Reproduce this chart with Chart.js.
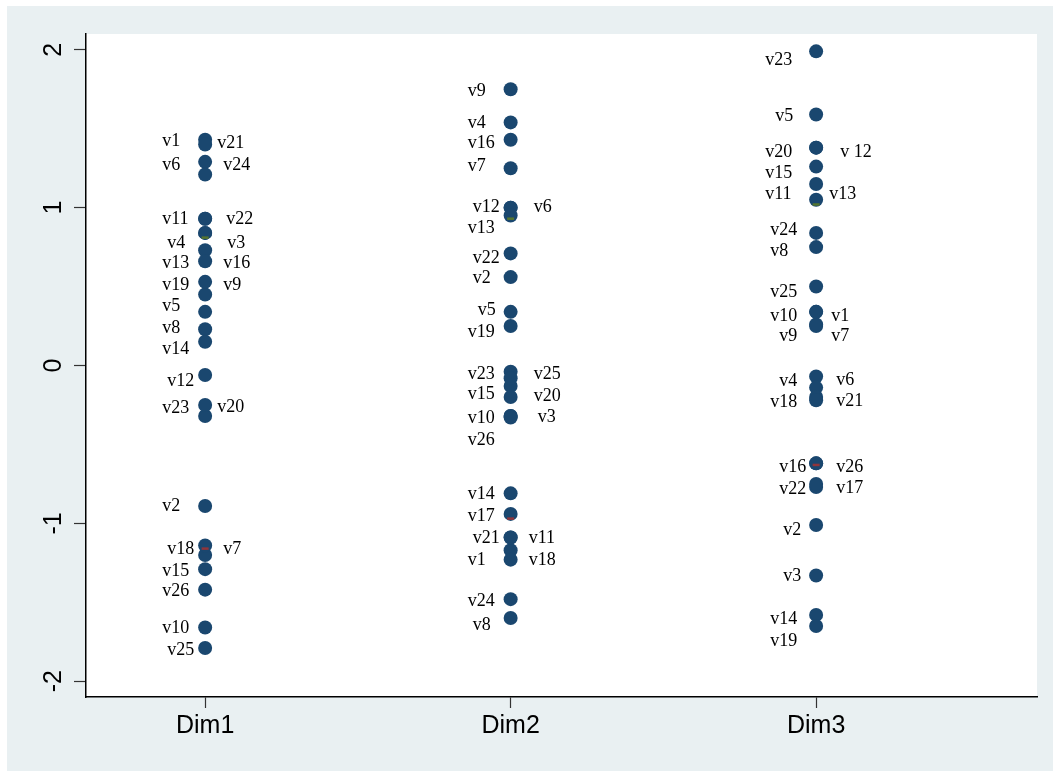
<!DOCTYPE html>
<html lang="en">
<head>
<meta charset="UTF-8">
<title>Dim plot</title>
<script src="https://cdn.jsdelivr.net/npm/chart.js"></script>
<style>
    body { margin: 0; background: #ffffff; }
    #box { width: 1053px; height: 771px; }
</style>
</head>
<body>
<div id="box"><canvas id="grafico"></canvas></div>
<script>
    // categorias e valores
    const dims = ['Dim1', 'Dim2', 'Dim3'];
    const names = ['v1','v2','v3','v4','v5','v6','v7','v8','v9','v10','v11','v12','v13',
                   'v14','v15','v16','v17','v18','v19','v20','v21','v22','v23','v24','v25','v26'];
    const dim1 = [1.43, -0.89, 0.84, 0.84, 0.34, 1.29, -1.20, 0.23, 0.45, -1.66, 0.93, -0.06, 0.73,
                  0.15, -1.29, 0.66, null, -1.14, 0.53, -0.32, 1.40, 0.93, -0.25, 1.21, -1.79, -1.42];
    const dim2 = [-1.17, 0.56, -0.32, 1.54, 0.34, 1.00, 1.25, -1.60, 1.75, -0.32, -1.09, 1.00, 0.95,
                  -0.81, -0.13, 1.43, -0.94, -1.23, 0.25, -0.20, -1.09, 0.71, -0.04, -1.48, -0.08, -0.33];
    const dim3 = [0.34, -1.01, -1.33, -0.07, 1.59, -0.14, 0.25, 0.75, 0.26, 0.34, 1.15, 1.38, 1.05,
                  -1.58, 1.26, -0.62, -0.77, -0.20, -1.65, 1.38, -0.22, -0.75, 1.99, 0.84, 0.50, -0.62];
    const redMark = [-1.16, -0.97, -0.63];
    const greenMark = [0.81, 0.93, 1.02];
    const yTicks = [-2, -1, 0, 1, 2];
    const dim3Text = { v12: 'v 12' };

    // onde fica cada rotulo: [dx, dy] em pixels a partir do ponto
    const place1 = {
        v1: [-43, 0], v2: [-43, -2], v3: [22, 8], v4: [-38, 8], v5: [-43, -8], v6: [-43, 1],
        v7: [18, -8], v8: [-43, -3], v9: [18, -11], v10: [-43, -1], v11: [-43, -1], v12: [-38, 4],
        v13: [-43, 11], v14: [-43, 5], v15: [-43, 0], v16: [18, 0], v18: [-38, 2], v19: [-43, 1],
        v20: [12, -11], v21: [12, -3], v22: [21, -1], v23: [-43, 1], v24: [18, -11], v25: [-38, 0],
        v26: [-43, 0]
    };
    const place2 = {
        v1: [-43, 8], v2: [-38, -1], v3: [27, -1], v4: [-43, -1], v5: [-33, -4], v6: [23, -2],
        v7: [-43, -4], v8: [-38, 5], v9: [-43, 0], v10: [-43, 0], v11: [18, -1], v12: [-38, -2],
        v13: [-43, 11], v14: [-43, -1], v15: [-43, 6], v16: [-43, 2], v17: [-43, 0], v18: [18, -1],
        v19: [-43, 4], v20: [23, -3], v21: [-38, -1], v22: [-38, 3], v23: [-43, 0], v24: [-43, 0],
        v25: [23, -6], v26: [-43, 21]
    };
    const place3 = {
        v1: [15, 2], v2: [-33, 3], v3: [-33, -1], v4: [-37, 3], v5: [-41, 0], v6: [20, -9],
        v7: [15, 8], v8: [-46, 2], v9: [-37, 10], v10: [-46, 2], v11: [-51, 8], v12: [24, 3],
        v13: [13, -7], v14: [-46, 2], v15: [-51, 5], v16: [-37, 2], v17: [20, -1], v18: [-46, 3],
        v19: [-46, 13], v20: [-51, 3], v21: [20, -1], v22: [-37, 3], v23: [-51, 7], v24: [-46, -5],
        v25: [-46, 4], v26: [20, 2]
    };

    const series = [dim1, dim2, dim3];
    const places = [place1, place2, place3];

    function pontos(valores, x) {
        let lista = [];
        valores.forEach(function (v, i) {
            if (v !== null) lista.push({ x: x, y: v, nome: names[i] });
        });
        return lista;
    }

    let conjuntos = series.map(function (s, i) {
        return {
            label: dims[i],
            data: pontos(s, i + 1),
            order: 2,
            pointBackgroundColor: '#1a476f',
            pointBorderColor: '#1a476f',
            pointBorderWidth: 0,
            pointRadius: 7
        };
    });
    // marcas pequenas por cima dos pontos (order menor = desenhado depois)
    conjuntos.push({
        label: 'red',
        data: redMark.map(function (v, i) { return { x: i + 1, y: v }; }),
        order: 0,
        pointStyle: 'line',
        pointBorderColor: '#90353b',
        pointBackgroundColor: '#90353b',
        pointBorderWidth: 2.5,
        pointRadius: 3.5
    });
    conjuntos.push({
        label: 'green',
        data: greenMark.map(function (v, i) { return { x: i + 1, y: v }; }),
        order: 0,
        pointStyle: 'line',
        pointBorderColor: '#55752f',
        pointBackgroundColor: '#55752f',
        pointBorderWidth: 2.5,
        pointRadius: 3.5
    });

    // fundo externo e area branca
    const fundo = {
        id: 'fundo',
        beforeDraw(chart) {
            const ctx = chart.ctx;
            const a = chart.chartArea;
            ctx.save();
            ctx.fillStyle = '#e9f0f2';
            ctx.fillRect(7, 6, chart.width - 7, chart.height - 6);
            ctx.fillStyle = '#ffffff';
            ctx.fillRect(a.left, a.top, a.right - a.left, a.bottom - a.top);
            ctx.restore();
        }
    };

    // rotulos dos pontos e numeros do eixo y
    const rotulos = {
        id: 'rotulos',
        afterDatasetsDraw(chart) {
            const ctx = chart.ctx;
            ctx.save();
            ctx.font = '18px "Liberation Serif", "Times New Roman", serif';
            ctx.fillStyle = '#000000';
            ctx.textAlign = 'left';
            ctx.textBaseline = 'middle';
            for (let d = 0; d < 3; d++) {
                const meta = chart.getDatasetMeta(d);
                meta.data.forEach(function (el, i) {
                    const nome = chart.data.datasets[d].data[i].nome;
                    const p = places[d][nome] || [-43, 0];
                    let texto = nome;
                    if (d === 2 && dim3Text[nome]) texto = dim3Text[nome];
                    ctx.fillText(texto, el.x + p[0], el.y + p[1] + 2);
                });
            }
            ctx.font = '25px "Liberation Sans", Arial, sans-serif';
            ctx.textAlign = 'center';
            ctx.textBaseline = 'middle';
            const ys = chart.scales.y;
            yTicks.forEach(function (t) {
                ctx.save();
                ctx.translate(54, ys.getPixelForValue(t));
                ctx.rotate(-Math.PI / 2);
                ctx.fillText(String(t), 0, 0);
                ctx.restore();
            });
            ctx.restore();
        }
    };

    const config = {
        type: 'scatter',
        data: { datasets: conjuntos },
        options: {
            responsive: true,
            maintainAspectRatio: false,
            animation: false,
            layout: { padding: { top: 34, right: 16, left: 0, bottom: 0 } },
            plugins: { legend: { display: false }, tooltip: { enabled: false } },
            scales: {
                x: {
                    type: 'linear',
                    min: 0.61,
                    max: 3.723,
                    afterBuildTicks: function (s) { s.ticks = dims.map(function (d, i) { return { value: i + 1 }; }); },
                    afterFit: function (s) { s.height = 74; },
                    ticks: {
                        color: '#000000',
                        padding: 3,
                        font: { family: '"Liberation Sans", Arial, sans-serif', size: 25 },
                        callback: function (v) { return dims[v - 1]; }
                    },
                    grid: { drawOnChartArea: false, tickLength: 11, tickColor: '#333333', tickWidth: 1.2 },
                    border: { color: '#000000', width: 1.5 }
                },
                y: {
                    min: -2.1,
                    max: 2.1,
                    afterBuildTicks: function (s) { s.ticks = yTicks.map(function (v) { return { value: v }; }); },
                    afterFit: function (s) { s.width = 86; },
                    ticks: { display: false },
                    grid: { drawOnChartArea: false, tickLength: 12, tickColor: '#333333', tickWidth: 1.2 },
                    border: { color: '#000000', width: 1.5 }
                }
            }
        },
        plugins: [fundo, rotulos]
    };

    let myChart = new Chart(document.getElementById('grafico'), config);
</script>
</body>
</html>
